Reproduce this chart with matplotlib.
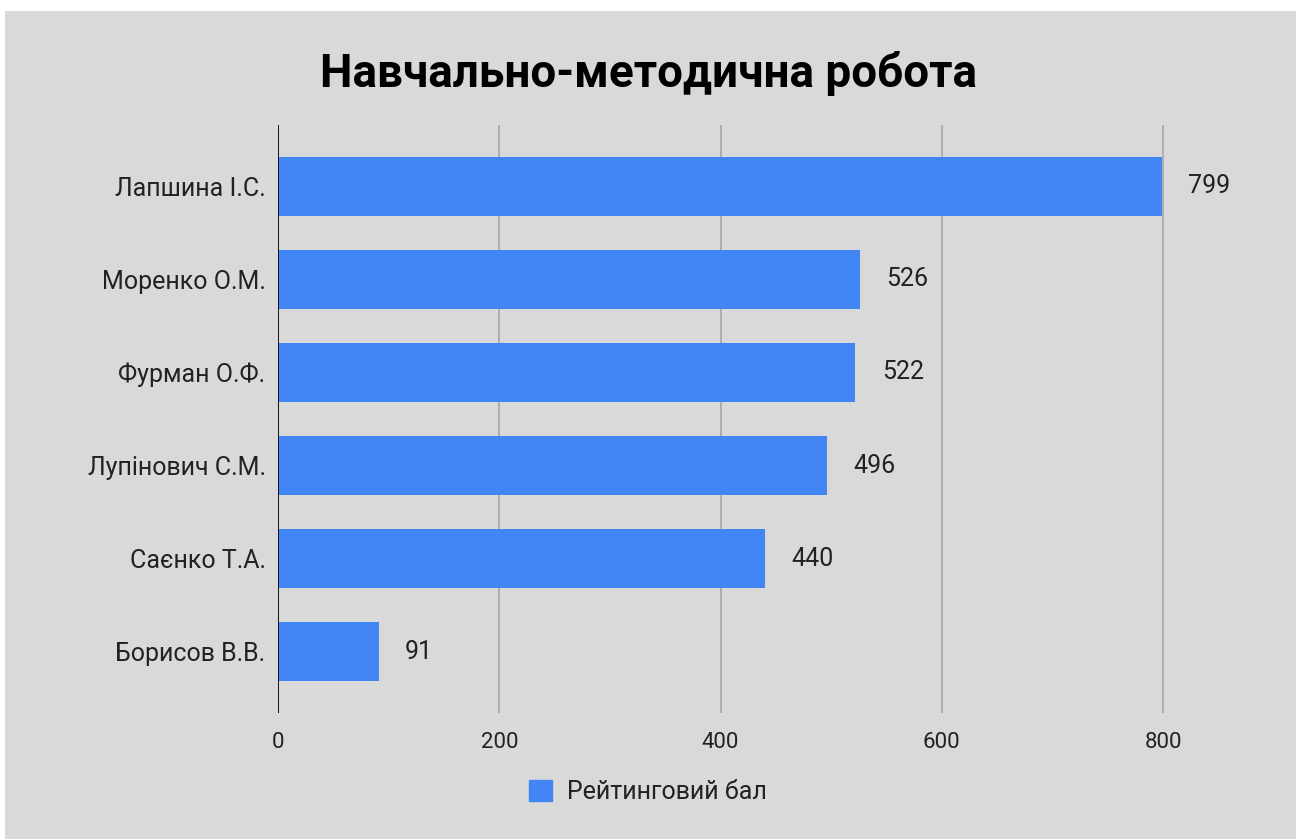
import matplotlib
matplotlib.use('Agg')
import matplotlib.pyplot as plt
import matplotlib.patches as mpatches

plt.rcParams['font.family'] = ['Roboto', 'DejaVu Sans']

# data
names = ['Лапшина І.С.', 'Моренко О.М.', 'Фурман О.Ф.',
         'Лупінович С.М.', 'Саєнко Т.А.', 'Борисов В.В.']
scores = [799, 526, 522, 496, 440, 91]
x_ticks = [0, 200, 400, 600, 800]
series_name = 'Рейтинговий бал'
title = 'Навчально-методична робота'

BG = '#d9d9d9'
BLUE = '#4285f4'
W, H = 1296, 839

fig = plt.figure(figsize=(W / 100, H / 100), dpi=100)
fig.patch.set_facecolor('white')
# gray card (small white margin on top and left like the screenshot)
fig.patches.append(mpatches.Rectangle((5 / W, 0), 1, 1 - 11 / H,
                                      transform=fig.transFigure,
                                      facecolor=BG, edgecolor='none', zorder=-10))

ax = fig.add_axes([278 / W, 1 - 713 / H, (1240 - 278) / W, (713 - 125) / H])
ax.patch.set_alpha(0)

y = list(range(len(names)))
bars = ax.barh(y, scores, height=0.63, color=BLUE, zorder=3)

for bar, val in zip(bars, scores):
    ax.text(val + 24, bar.get_y() + bar.get_height() / 2, str(val),
            ha='left', va='center', fontsize=18, color='#222222')

ax.set_ylim(len(names) - 1 + 0.66, -0.66)
ax.set_xlim(0, (1240 - 278) / (885 / 800))
ax.set_xticks(x_ticks)
ax.set_xticklabels([str(t) for t in x_ticks], fontsize=16, color='#222222')
ax.set_yticks(y)
ax.set_yticklabels(names, fontsize=18, color='#222222')
ax.tick_params(length=0)
ax.tick_params(axis='x', pad=14)
ax.tick_params(axis='y', pad=9)

for t in x_ticks[1:]:
    ax.axvline(t, color='#a6a6a6', linewidth=1.2, zorder=1)
ax.axvline(0, color='#111111', linewidth=1.4, zorder=4)

for s in ax.spines.values():
    s.set_visible(False)

fig.text(648 / W, 1 - 73 / H, title, ha='center', va='center',
         fontsize=33, fontweight='bold', color='#000000')

fig.legend(handles=[mpatches.Patch(color=BLUE, label=series_name)],
           loc='center', bbox_to_anchor=(648 / W, 1 - 792 / H),
           frameon=False, fontsize=18, handlelength=0.9, handleheight=0.9,
           handletextpad=0.6, labelcolor='#222222')

fig.savefig('out.png', dpi=100, facecolor='white')
